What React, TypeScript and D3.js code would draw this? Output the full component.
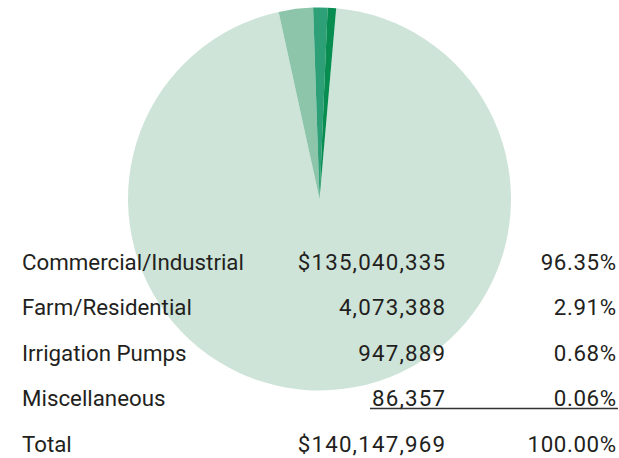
import React from "react";
import * as d3 from "d3";

const categories = ["Commercial/Industrial", "Farm/Residential", "Irrigation Pumps", "Miscellaneous"];
const amounts = ["$135,040,335", "4,073,388", "947,889", "86,357"];
const percents = ["96.35%", "2.91%", "0.68%", "0.06%"];
const totalLabel = "Total";
const totalAmount = "$140,147,969";
const totalPercent = "100.00%";
// slice shares as drawn in the pie (percent of circle)
const sliceShares = [95.19, 2.89, 1.21, 0.71];
const sliceColors = ["#cee4d9", "#8dc5aa", "#2ea077", "#078d4f"];

const W = 619;
const H = 458;

export default function App() {
  const cx = 319.5;
  const cy = 199;
  const r = 191.5;
  const start = (5 * Math.PI) / 180;
  const pie = d3
    .pie<number>()
    .sort(null)
    .value((d) => d)
    .startAngle(start)
    .endAngle(start + 2 * Math.PI);
  const arcs = pie(sliceShares);
  const arc = d3.arc<d3.PieArcDatum<number>>().innerRadius(0).outerRadius(r);

  const y = d3.scaleLinear().domain([0, 4]).range([269.5, 451.5]);
  const fontFamily = "Roboto, 'Liberation Sans', sans-serif";
  const fs = 22.3;
  const color = "#231f20";
  const lsA = 1.2;
  const lsP = 0.6;

  const row = (label: string, amt: string, pct: string, i: number) => (
    <g key={label}>
      <text x={22} y={y(i)}>{label}</text>
      <text x={445 + lsA} y={y(i)} textAnchor="end" letterSpacing={lsA}>{amt}</text>
      <text x={616 + lsP} y={y(i)} textAnchor="end" letterSpacing={lsP}>{pct}</text>
    </g>
  );

  return (
    <svg
      width={W}
      height={H}
      style={{ position: "absolute", left: 0, top: 0, background: "#fff" }}
    >
      <g transform={`translate(${cx},${cy})`}>
        {arcs.map((a, i) => (
          <path key={i} d={arc(a) || ""} fill={sliceColors[i]} />
        ))}
      </g>
      <g fontFamily={fontFamily} fontSize={fs} fill={color}>
        {categories.map((c, i) => row(c, amounts[i], percents[i], i))}
        <line x1={370} x2={618} y1={408.5} y2={408.5} stroke="#333" strokeWidth={1.3} />
        {row(totalLabel, totalAmount, totalPercent, 4)}
      </g>
    </svg>
  );
}
